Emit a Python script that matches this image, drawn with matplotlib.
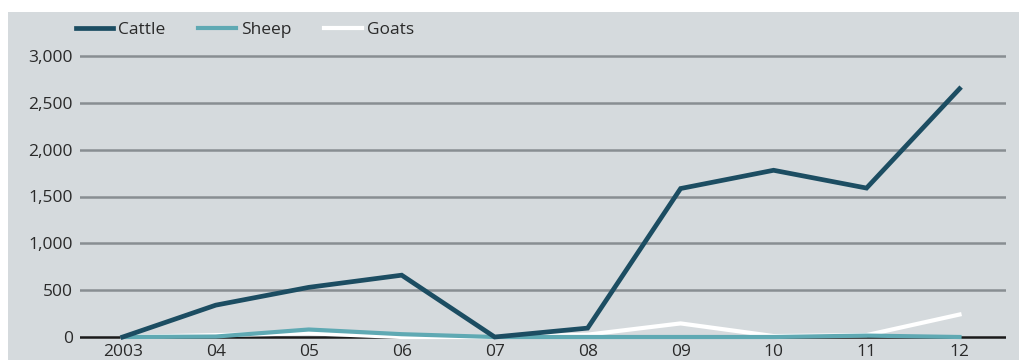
import matplotlib
matplotlib.use("Agg")
import matplotlib.pyplot as plt
from matplotlib.patches import Rectangle

years = [2003, 2004, 2005, 2006, 2007, 2008, 2009, 2010, 2011, 2012]
year_labels = ["2003", "04", "05", "06", "07", "08", "09", "10", "11", "12"]
cattle = [0, 340, 530, 660, 0, 95, 1585, 1780, 1590, 2650]
sheep = [0, 5, 80, 30, 0, 0, 0, 0, 15, 0]
goats = [0, 20, 40, 0, 0, 25, 145, 10, 20, 240]
y_ticks = [0, 500, 1000, 1500, 2000, 2500, 3000]

W, H = 1019, 360
FS = 12.5
fig = plt.figure(figsize=(W / 100, H / 100), dpi=100)
fig.patch.set_facecolor("white")

# grey panel behind the chart
fig.add_artist(Rectangle((8 / W, 0), 1 - 8 / W, (H - 12) / H,
                         transform=fig.transFigure, facecolor="#d5dadd",
                         edgecolor="none", zorder=0))

ax_bottom_px, ax_top_px = 342, 45
ax = fig.add_axes([80 / W, (H - ax_bottom_px) / H, (1006 - 80) / W,
                   (ax_bottom_px - ax_top_px) / H])
ax.set_facecolor("none")

k = (337 - 56) / 3000.0
ax.set_ylim(-(ax_bottom_px - 337) / k, 3000 + (56 - ax_top_px) / k)
ax.set_xlim(2002.54, 2012.5)

for t in y_ticks[1:]:
    ax.axhline(t, color="#888e92", lw=1.8, zorder=1)
ax.axhline(0, color="#1a1a1a", lw=1.8, zorder=1)

ax.plot(years, goats, color="white", lw=3.0, zorder=3, label="Goats",
        solid_joinstyle="miter")
ax.plot(years, sheep, color="#5fa9b3", lw=3.0, zorder=4, label="Sheep",
        solid_joinstyle="miter")
ax.plot(years, cattle, color="#1c4d62", lw=3.4, zorder=5, label="Cattle",
        solid_joinstyle="miter")

for s in ax.spines.values():
    s.set_visible(False)
ax.set_yticks(y_ticks)
ax.set_yticklabels([f"{v:,}" for v in y_ticks])
ax.set_xticks(years)
ax.set_xticklabels(year_labels)
ax.tick_params(axis="both", length=0, labelsize=FS, colors="#2a2a2a")
ax.tick_params(axis="y", pad=5)
ax.tick_params(axis="x", pad=1.5)
for lab in ax.get_yticklabels() + ax.get_xticklabels():
    lab.set_fontfamily("Open Sans")
    lab.set_fontweight("medium")

handles, labels = ax.get_legend_handles_labels()
order = [2, 1, 0]
leg = fig.legend([handles[i] for i in order], [labels[i] for i in order],
                 loc="center left", bbox_to_anchor=(60 / W, (H - 30) / H),
                 ncol=3, frameon=False, handlelength=2.15, handletextpad=0.3,
                 columnspacing=1.9,
                 prop={"family": "Open Sans", "size": FS, "weight": "medium"})
for t in leg.get_texts():
    t.set_color("#2a2a2a")

fig.savefig("out.png", dpi=100)
